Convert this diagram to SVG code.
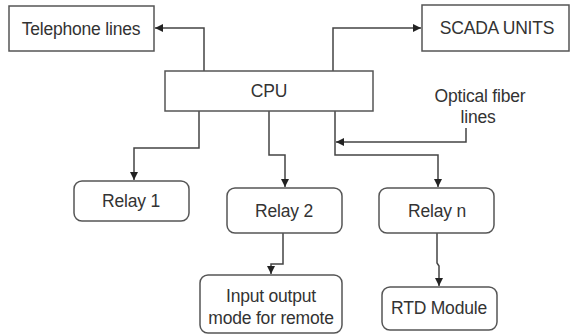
<svg xmlns="http://www.w3.org/2000/svg" width="570" height="336" viewBox="0 0 570 336">
<defs>
<style>
.box{fill:#fff;stroke:#555;stroke-width:1.5}
.lbl{font-family:"Liberation Sans",Arial,sans-serif;font-size:17.5px;letter-spacing:-0.2px;fill:#333;text-anchor:middle;dominant-baseline:central}
.con{fill:none;stroke:#444;stroke-width:1.5}
</style>
<marker id="ah" markerUnits="userSpaceOnUse" markerWidth="9" markerHeight="8" refX="8" refY="4" orient="auto">
<path d="M0,0 L8,4 L0,8 Z" fill="#222"/>
</marker>
</defs>
<rect width="570" height="336" fill="#fff"/>
<g id="connectors">
<path class="con" d="M204,71 V28 H155" marker-end="url(#ah)"/>
<path class="con" d="M333,71 V28 H421" marker-end="url(#ah)"/>
<path class="con" d="M199,111 V148 H134 V180" marker-end="url(#ah)"/>
<path class="con" d="M269,111 V155 H285 V187" marker-end="url(#ah)"/>
<path class="con" d="M335,111 V155 H438 V187" marker-end="url(#ah)"/>
<path class="con" d="M466,128 V142 H336" marker-end="url(#ah)"/>
<path class="con" d="M283,233 V264 H271 V274" marker-end="url(#ah)"/>
<path class="con" d="M437,233 V263 L439,266 V286" marker-end="url(#ah)"/>
</g>
<g id="telephone">
<rect class="box" x="9" y="6" width="145" height="45"/>
<text class="lbl" x="81" y="28.5">Telephone lines</text>
</g>
<g id="scada">
<rect class="box" x="422" y="5" width="147" height="46"/>
<text class="lbl" x="497" y="28">SCADA UNITS</text>
</g>
<g id="cpu">
<rect class="box" x="165" y="71" width="208" height="40"/>
<text class="lbl" x="269" y="91">CPU</text>
</g>
<g id="optical">
<text class="lbl" x="480" y="96">Optical fiber</text>
<text class="lbl" x="478" y="117">lines</text>
</g>
<g id="relay1">
<rect class="box" x="74" y="181" width="115" height="40" rx="8"/>
<text class="lbl" x="131" y="201">Relay 1</text>
</g>
<g id="relay2">
<rect class="box" x="227" y="188" width="115" height="45" rx="8"/>
<text class="lbl" x="284" y="211">Relay 2</text>
</g>
<g id="relayn">
<rect class="box" x="379" y="188" width="115" height="45" rx="8"/>
<text class="lbl" x="437" y="211">Relay n</text>
</g>
<g id="inputoutput">
<rect class="box" x="200" y="275" width="142" height="58" rx="8"/>
<text class="lbl" x="271" y="296">Input output</text>
<text class="lbl" x="271" y="318">mode for remote</text>
</g>
<g id="rtd">
<rect class="box" x="382" y="287" width="115" height="43" rx="8"/>
<text class="lbl" x="439" y="308">RTD Module</text>
</g>
</svg>
